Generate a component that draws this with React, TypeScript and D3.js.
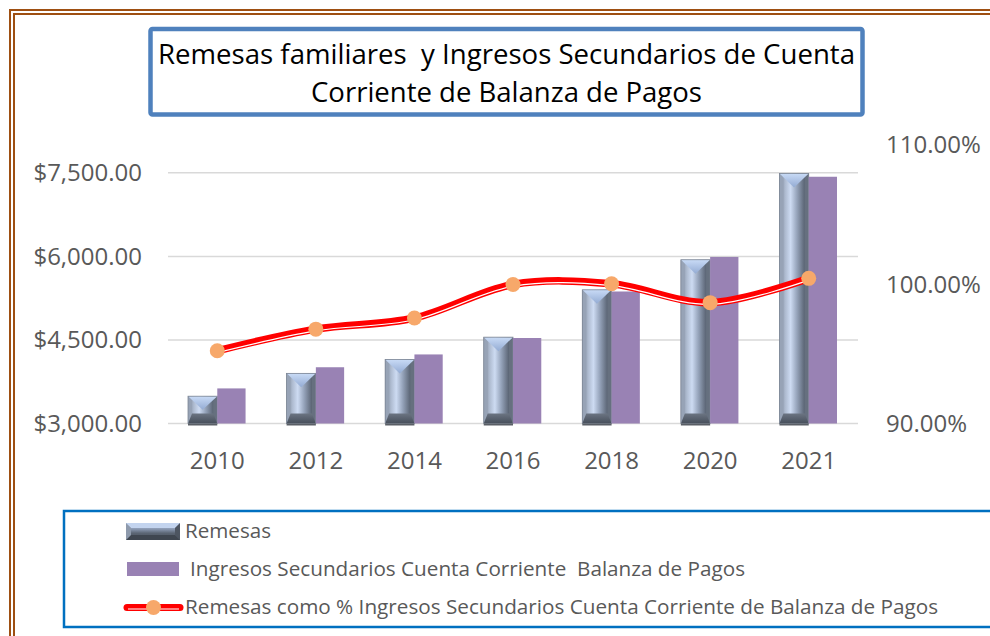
import React from 'react'
import * as d3 from 'd3'

const years = ['2010', '2012', '2014', '2016', '2018', '2020', '2021']
const remesas = [3490, 3900, 4150, 4550, 5400, 5940, 7490]
const ingresos = [3630, 4010, 4240, 4535, 5370, 5990, 7430]
const porcentaje = [0.9525, 0.968, 0.976, 1.0, 1.0005, 0.987, 1.0044]

const leftTicks = [3000, 4500, 6000, 7500]
const rightTicks = [0.9, 1.0, 1.1]

const titleLines = ['Remesas familiares  y Ingresos Secundarios de Cuenta', 'Corriente de Balanza de Pagos']
const legendLabels = [
  'Remesas',
  'Ingresos Secundarios Cuenta Corriente  Balanza de Pagos',
  'Remesas como % Ingresos Secundarios Cuenta Corriente de Balanza de Pagos',
]

const FONT = '"Open Sans", "Noto Sans", sans-serif'
const GREY = '#595959'

export default function App() {
  const width = 990
  const height = 636

  const x = d3.scaleBand().domain(years).range([168, 858])
  const yLeft = d3.scaleLinear().domain([3000, 8000]).range([423.5, 145])
  const yRight = d3.scaleLinear().domain([0.9, 1.1]).range([424, 145])

  const fmtMoney = d3.format('$,.2f')
  const fmtPct = d3.format('.2%')

  const barW = x.bandwidth() * 0.297
  const center = (d: string) => (x(d) as number) + x.bandwidth() / 2

  const line = d3.line<number>()
    .x((_, i) => center(years[i]))
    .y(d => yRight(d))
    .curve(d3.curveCardinal.tension(0))
  const linePath = line(porcentaje) || ''

  // beveled metallic bar
  const metalBar = (x0: number, y0: number, w: number, y1: number, key: string) => {
    const x1 = x0 + w
    const xc = x0 + w / 2
    const h = y1 - y0
    const bt = Math.min(14, h / 2)
    const bb = Math.min(10, h / 2)
    const s = 4
    return <g key={key}>
      <rect x={x0} y={y0} width={w} height={h} fill="url(#metal)" />
      <polygon points={`${x0},${y0} ${x0 + s},${y0 + s} ${x0 + s},${y1 - s} ${x0},${y1}`} fill="#97a3b6" />
      <polygon points={`${x1},${y0} ${x1 - s},${y0 + s} ${x1 - s},${y1 - s} ${x1},${y1}`} fill="#66707f" />
      <polygon points={`${x0},${y0} ${x1},${y0} ${xc},${y0 + bt}`} fill="url(#metalTop)" />
      <polygon points={`${x0},${y1} ${x1},${y1} ${x1 - s},${y1 - bb} ${x0 + s},${y1 - bb}`} fill="url(#metalBottom)" />
      <rect x={x0} y={y0} width={w} height={h} fill="none" stroke="#7c8594" strokeWidth={0.8} />
      <line x1={x0} x2={x1} y1={y1 + 1} y2={y1 + 1} stroke="#5a5f66" strokeWidth={2} />
    </g>
  }

  return <svg width={width} height={height} style={{position: 'absolute', left: 0, top: 0, background: '#fff'}}>
    <defs>
      <linearGradient id="metal" x1="0" x2="1" y1="0" y2="0">
        <stop offset="0" stopColor="#7d8898" />
        <stop offset="0.2" stopColor="#aebbd0" />
        <stop offset="0.38" stopColor="#cddbf2" />
        <stop offset="0.6" stopColor="#95a3ba" />
        <stop offset="0.85" stopColor="#5d6777" />
        <stop offset="1" stopColor="#6c7684" />
      </linearGradient>
      <linearGradient id="metalTop" x1="0" x2="0" y1="0" y2="1">
        <stop offset="0" stopColor="#c9dbf6" />
        <stop offset="1" stopColor="#93abd3" />
      </linearGradient>
      <linearGradient id="metalBottom" x1="0" x2="0" y1="0" y2="1">
        <stop offset="0" stopColor="#6b7482" />
        <stop offset="1" stopColor="#474f5b" />
      </linearGradient>
      <linearGradient id="legendMetal" x1="0" x2="0" y1="0" y2="1">
        <stop offset="0" stopColor="#b8cae8" />
        <stop offset="0.35" stopColor="#8b9ab3" />
        <stop offset="0.6" stopColor="#5b6573" />
        <stop offset="1" stopColor="#474e59" />
      </linearGradient>
    </defs>

    {/* outer double border */}
    <rect x={10} y={10} width={1000} height={700} fill="none" stroke="#9e4f12" strokeWidth={2} />
    <rect x={14} y={14} width={1000} height={700} fill="none" stroke="#9e4f12" strokeWidth={2} />

    {/* title */}
    <rect x={150.5} y={29} width={712} height={85.5} rx={2} fill="#fff" stroke="#4f81bd" strokeWidth={4.5} />
    {titleLines.map((t, i) =>
      <text key={i} x={506.5} y={i === 0 ? 63.5 : 101.5} textAnchor="middle" fontFamily={FONT} fontSize={28}
        fill="#000" style={{whiteSpace: 'pre'}}
        textLength={i === 0 ? 697 : 391} lengthAdjust="spacingAndGlyphs">{t}</text>)}

    {/* gridlines */}
    {leftTicks.map(t =>
      <line key={t} x1={168} x2={858} y1={yLeft(t)} y2={yLeft(t)} stroke="#d9d9d9" strokeWidth={1.5} />)}

    {/* left axis labels */}
    {leftTicks.map(t =>
      <text key={t} x={142} y={yLeft(t)} dy="0.35em" textAnchor="end" fontFamily={FONT} fontSize={24} fill={GREY}>
        {fmtMoney(t)}</text>)}

    {/* right axis labels */}
    {rightTicks.map(t =>
      <text key={t} x={886} y={yRight(t)} dy="0.35em" textAnchor="start" fontFamily={FONT} fontSize={24} fill={GREY}>
        {fmtPct(t)}</text>)}

    {/* x labels */}
    {years.map(d =>
      <text key={d} x={center(d)} y={461} dy="0.35em" textAnchor="middle" fontFamily={FONT} fontSize={24} fill={GREY}>
        {d}</text>)}

    {/* bars */}
    {years.map((d, i) => metalBar(center(d) - barW, yLeft(remesas[i]), barW, yLeft(3000), 'r' + d))}
    {years.map((d, i) =>
      <rect key={'i' + d} x={center(d)} y={yLeft(ingresos[i])} width={barW - 1}
        height={yLeft(3000) - yLeft(ingresos[i])} fill="#9982b4" />)}

    {/* percent line */}
    <path d={linePath} fill="none" stroke="#ff0000" strokeWidth={7.5} strokeLinejoin="round" strokeLinecap="round" />
    <path d={linePath} fill="none" stroke="#ffffff" strokeWidth={1.2} transform="translate(0,1.8)" />
    {porcentaje.map((p, i) =>
      <circle key={i} cx={center(years[i])} cy={yRight(p)} r={7.5} fill="#f7a86a" />)}

    {/* legend */}
    <rect x={64} y={511} width={1000} height={116} fill="#fff" stroke="#0070c0" strokeWidth={2.5} />
    <g>
      <rect x={126} y={523} width={54} height={17} fill="url(#legendMetal)" />
      <polygon points="126,523 180,523 175,528 131,528" fill="#c3d4ef" />
      <polygon points="126,540 180,540 175,535 131,535" fill="#3f4650" />
      <polygon points="126,523 131,528 131,535 126,540" fill="#8e9aac" />
      <polygon points="180,523 175,528 175,535 180,540" fill="#4d5561" />
      <text x={185} y={531} dy="0.35em" fontFamily={FONT} fontSize={20.5} fill={GREY}
        textLength={86} lengthAdjust="spacingAndGlyphs">{legendLabels[0]}</text>
    </g>
    <g>
      <rect x={127} y={562} width={52} height={14} fill="#9982b4" />
      <text x={190} y={569} dy="0.35em" fontFamily={FONT} fontSize={20.5} fill={GREY} style={{whiteSpace: 'pre'}}
        textLength={555} lengthAdjust="spacingAndGlyphs">{legendLabels[1]}</text>
    </g>
    <g>
      <line x1={127} x2={180} y1={607.5} y2={607.5} stroke="#ff0000" strokeWidth={7} strokeLinecap="round" />
      <line x1={128} x2={179} y1={609} y2={609} stroke="#ffffff" strokeWidth={1.2} />
      <circle cx={153.5} cy={607.5} r={7.5} fill="#f7a86a" />
      <text x={185} y={607} dy="0.35em" fontFamily={FONT} fontSize={20.5} fill={GREY}
        textLength={753} lengthAdjust="spacingAndGlyphs">{legendLabels[2]}</text>
    </g>
  </svg>
}
